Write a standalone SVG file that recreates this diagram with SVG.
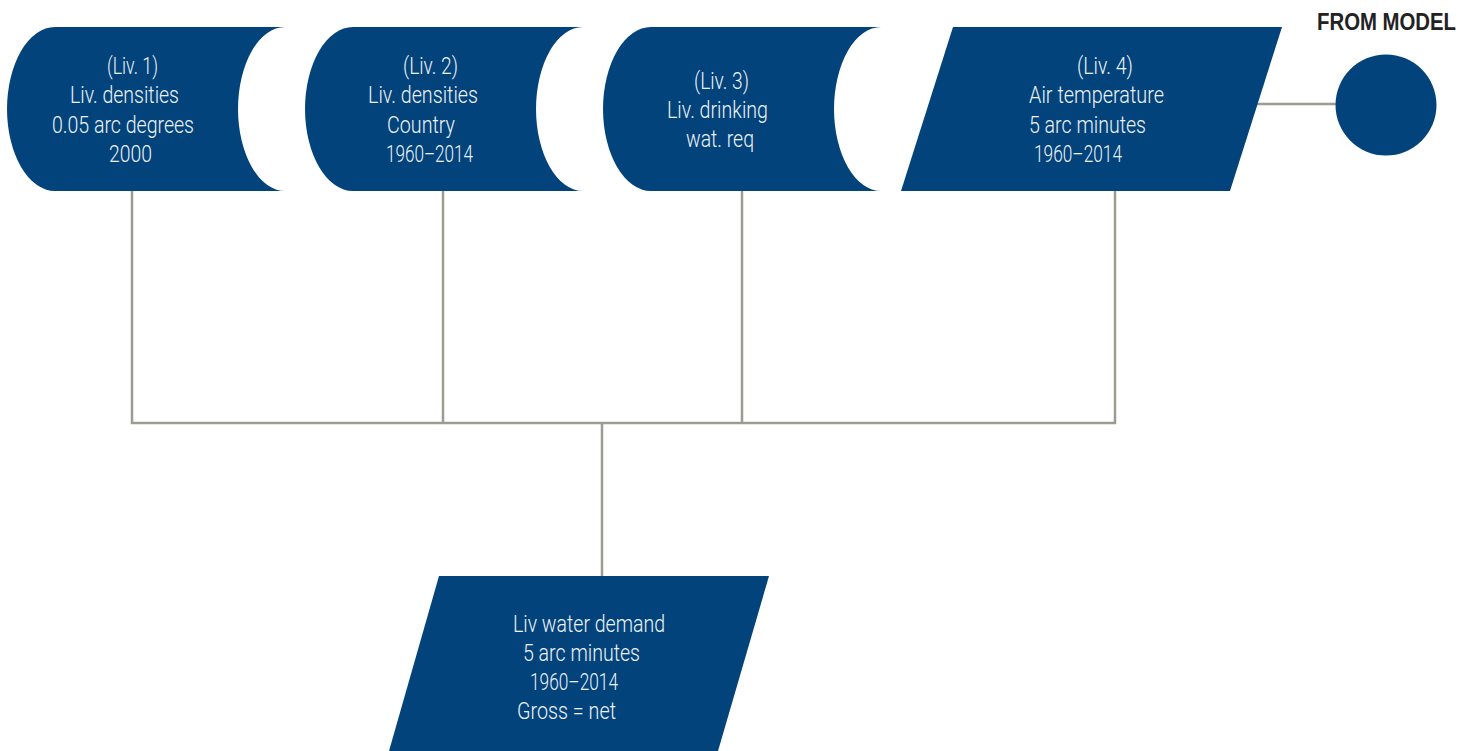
<svg xmlns="http://www.w3.org/2000/svg" width="1473" height="751" viewBox="0 0 1473 751">
  <style>
    .node { fill: #02437b; }
    .lbl { font-family: Roboto, "Liberation Sans", sans-serif; font-weight: 300; font-size: 23.5px; fill: #eef2f6; }
    .wire { fill: none; stroke: #9c9d92; stroke-width: 2.5; }
    .head { font-family: "Liberation Sans", Arial, sans-serif; font-weight: 700; font-size: 24px; fill: #222222; }
  </style>
  <defs>
    <!-- stored-data shape: rounded left side, concave right side -->
    <path id="stored" d="M48,0 H278 A47,82 0 0 0 278,164 H48 A48,82 0 0 1 48,0 Z"/>
  </defs>

  <rect width="1473" height="751" fill="#ffffff"/>

  <!-- connectors -->
  <g id="connectors">
    <path class="wire" d="M132,191 V423 M443,191 V423 M742,191 V423 M1115,191 V423 M130.75,423 H1116.25 M602,423 V576"/>
    <path class="wire" d="M1250,104 H1340"/>
  </g>

  <g id="liv1">
    <use href="#stored" class="node" x="7" y="27"/>
    <text class="lbl" x="107" y="74" textLength="51" lengthAdjust="spacingAndGlyphs">(Liv. 1)</text>
    <text class="lbl" x="70" y="103" textLength="109" lengthAdjust="spacingAndGlyphs">Liv. densities</text>
    <text class="lbl" x="52" y="133" textLength="142" lengthAdjust="spacingAndGlyphs">0.05 arc degrees</text>
    <text class="lbl" x="109" y="162" textLength="43" lengthAdjust="spacingAndGlyphs">2000</text>
  </g>

  <g id="liv2">
    <use href="#stored" class="node" x="305" y="27"/>
    <text class="lbl" x="403" y="74" textLength="55" lengthAdjust="spacingAndGlyphs">(Liv. 2)</text>
    <text class="lbl" x="368" y="103" textLength="110" lengthAdjust="spacingAndGlyphs">Liv. densities</text>
    <text class="lbl" x="387" y="133" textLength="68" lengthAdjust="spacingAndGlyphs">Country</text>
    <text class="lbl" x="386" y="162" textLength="87" lengthAdjust="spacingAndGlyphs">1960–2014</text>
  </g>

  <g id="liv3">
    <use href="#stored" class="node" x="603" y="27"/>
    <text class="lbl" x="694" y="89" textLength="55" lengthAdjust="spacingAndGlyphs">(Liv. 3)</text>
    <text class="lbl" x="667" y="118" textLength="101" lengthAdjust="spacingAndGlyphs">Liv. drinking</text>
    <text class="lbl" x="686" y="147" textLength="68" lengthAdjust="spacingAndGlyphs">wat. req</text>
  </g>

  <g id="liv4">
    <polygon class="node" points="953,27 1282,27 1230,191 901,191"/>
    <text class="lbl" x="1077" y="74" textLength="56" lengthAdjust="spacingAndGlyphs">(Liv. 4)</text>
    <text class="lbl" x="1029" y="103" textLength="135" lengthAdjust="spacingAndGlyphs">Air temperature</text>
    <text class="lbl" x="1029" y="133" textLength="117" lengthAdjust="spacingAndGlyphs">5 arc minutes</text>
    <text class="lbl" x="1034" y="162" textLength="88" lengthAdjust="spacingAndGlyphs">1960–2014</text>
  </g>

  <g id="from-model">
    <!-- condensed heading: horizontal squeeze keeps the real glyph box inside the page -->
    <text class="head" transform="translate(1317 29.5) scale(0.848 1)" x="0" y="0">FROM MODEL</text>
    <circle class="node" cx="1386" cy="105" r="50.5"/>
  </g>

  <g id="liv-water-demand">
    <polygon class="node" points="439,576 769,576 718,751 389,751"/>
    <text class="lbl" x="513" y="632" textLength="152" lengthAdjust="spacingAndGlyphs">Liv water demand</text>
    <text class="lbl" x="523" y="661" textLength="117" lengthAdjust="spacingAndGlyphs">5 arc minutes</text>
    <text class="lbl" x="530" y="690" textLength="88" lengthAdjust="spacingAndGlyphs">1960–2014</text>
    <text class="lbl" x="517" y="719" textLength="99" lengthAdjust="spacingAndGlyphs">Gross = net</text>
  </g>
</svg>
